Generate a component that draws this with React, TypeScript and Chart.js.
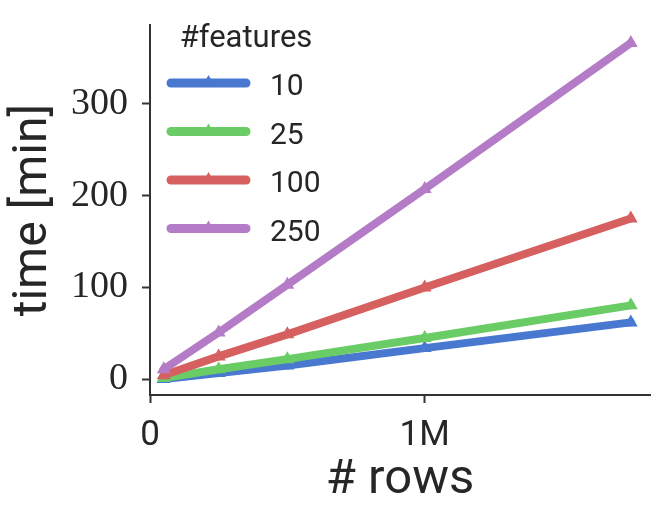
import React, { useEffect, useRef } from "react";
import { Chart, registerables } from "chart.js";

Chart.register(...registerables);

const rows = [50000, 250000, 500000, 1000000, 1750000];
const featureLabels = ["10", "25", "100", "250"];
const time10 = [0.5, 7, 15, 34, 62];
const time25 = [1.5, 11, 22, 45, 80.5];
const time100 = [4.5, 25, 49, 100, 175];
const time250 = [11, 51, 103, 207, 366];
const colors = ["#4878CF", "#6ACC65", "#D65F5F", "#B47CC7"];
const xTicks = [0, 1000000];
const xTickLabels = ["0", "1M"];
const yTicks = [0, 100, 200, 300];

const TEXT = "#262626";
const SPINE = "#333333";

const legendPlugin = {
  id: "customLegend",
  afterDraw(chart: any) {
    const ctx = chart.ctx;
    ctx.save();
    ctx.fillStyle = TEXT;
    ctx.font = "31px Roboto";
    ctx.textAlign = "center";
    ctx.textBaseline = "alphabetic";
    ctx.fillText("#features", 246, 47);
    chart.data.datasets.forEach((ds: any, i: number) => {
      const y = 83 + i * 48.5;
      ctx.strokeStyle = ds.borderColor;
      ctx.lineWidth = 9;
      ctx.lineCap = "round";
      ctx.beginPath();
      ctx.moveTo(171, y);
      ctx.lineTo(246, y);
      ctx.stroke();
      const r = 8;
      const cx = 208.5;
      ctx.fillStyle = ds.borderColor;
      ctx.beginPath();
      for (let k = 0; k < 3; k++) {
        const a = (k * 2 * Math.PI) / 3;
        const px = cx + Math.sin(a) * r;
        const py = y - Math.cos(a) * r;
        if (k === 0) ctx.moveTo(px, py);
        else ctx.lineTo(px, py);
      }
      ctx.closePath();
      ctx.fill();
      ctx.fillStyle = TEXT;
      ctx.font = "30px Roboto";
      ctx.textAlign = "left";
      ctx.fillText(ds.label, 270, y + 12);
    });
    ctx.restore();
  },
};

export default function App() {
  const ref = useRef<HTMLCanvasElement>(null);
  useEffect(() => {
    document.body.style.margin = "0";
    const series = [time10, time25, time100, time250];
    const chart = new Chart(ref.current as HTMLCanvasElement, {
      type: "line",
      data: {
        datasets: series.map((vals, i) => ({
          label: featureLabels[i],
          data: rows.map((x, j) => ({ x, y: vals[j] })),
          borderColor: colors[i],
          backgroundColor: colors[i],
          borderWidth: 8,
          borderJoinStyle: "round",
          borderCapStyle: "round",
          pointStyle: "triangle",
          pointRadius: 8,
          pointBorderWidth: 0,
          pointBackgroundColor: colors[i],
          fill: false,
          tension: 0,
          order: series.length - i,
        })),
      },
      options: {
        animation: false,
        responsive: false,
        layout: { padding: { top: 25, right: 12, left: 0, bottom: 0 } },
        plugins: { legend: { display: false }, tooltip: { enabled: false } },
        scales: {
          x: {
            type: "linear",
            min: 0,
            max: 1820000,
            afterFit: (s: any) => {
              s.height = 124;
              s.paddingLeft = 0;
              s.paddingRight = 0;
            },
            afterBuildTicks: (s: any) => {
              s.ticks = xTicks.map((v) => ({ value: v }));
            },
            ticks: {
              callback: (v: any) => xTickLabels[xTicks.indexOf(Number(v))] ?? "",
              font: { family: "Roboto", size: 35 },
              color: TEXT,
              padding: 12,
              maxRotation: 0,
            },
            grid: {
              drawOnChartArea: false,
              drawTicks: true,
              tickLength: 8,
              tickWidth: 2,
              tickColor: SPINE,
            },
            border: { display: true, color: SPINE, width: 2 },
            title: {
              display: true,
              text: "# rows",
              font: { family: "Roboto", size: 49 },
              color: TEXT,
              padding: { top: 0, bottom: 9 },
            },
          },
          y: {
            type: "linear",
            min: -17,
            max: 385.5,
            afterFit: (s: any) => {
              s.width = 150;
              s.paddingTop = 0;
              s.paddingBottom = 0;
            },
            afterBuildTicks: (s: any) => {
              s.ticks = yTicks.map((v) => ({ value: v }));
            },
            ticks: {
              font: { family: "Liberation Serif", size: 38 },
              color: TEXT,
              padding: 14,
            },
            grid: {
              drawOnChartArea: false,
              drawTicks: true,
              tickLength: 8,
              tickWidth: 2,
              tickColor: SPINE,
            },
            border: { display: true, color: SPINE, width: 2 },
            title: {
              display: true,
              text: "time [min]",
              font: { family: "Roboto", size: 48 },
              color: TEXT,
              padding: { top: 5, bottom: 0 },
            },
          },
        },
      },
      plugins: [legendPlugin],
    } as any);
    return () => chart.destroy();
  }, []);
  return <canvas ref={ref} width={662} height={519} style={{ display: "block" }} />;
}
